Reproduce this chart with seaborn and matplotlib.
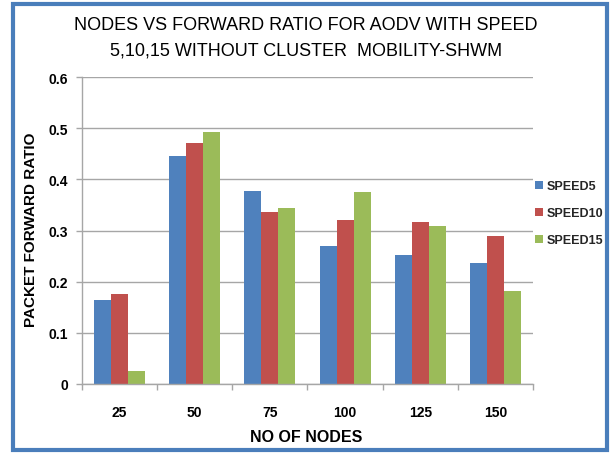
import matplotlib
matplotlib.use("Agg")
import matplotlib.pyplot as plt
from matplotlib.patches import Rectangle
from matplotlib.ticker import FuncFormatter, FixedLocator
import numpy as np
import pandas as pd
import seaborn as sns

# Data
nodes = ["25", "50", "75", "100", "125", "150"]
series = ["SPEED5", "SPEED10", "SPEED15"]
speed5 = [0.165, 0.445, 0.377, 0.270, 0.253, 0.237]
speed10 = [0.175, 0.471, 0.337, 0.320, 0.317, 0.289]
speed15 = [0.026, 0.493, 0.344, 0.375, 0.309, 0.181]
colors = ["#4F81BD", "#C0504D", "#9BBB59"]

df = pd.DataFrame({
    "nodes": nodes * 3,
    "speed": [s for s in series for _ in nodes],
    "ratio": speed5 + speed10 + speed15,
})

sns.set_theme(style="white")
plt.rcParams["font.family"] = ["Liberation Sans", "DejaVu Sans"]

W, H = 610, 456
fig = plt.figure(figsize=(W / 100, H / 100), dpi=100)
x0, x1, y_bot, y_top = 82, 533, 385, 78
ax = fig.add_axes([x0 / W, (H - y_bot) / H, (x1 - x0) / W, (y_bot - y_top) / H])

sns.barplot(data=df, x="nodes", y="ratio", hue="speed", order=nodes,
            hue_order=series, palette=colors, width=0.68, gap=0,
            saturation=1, edgecolor="none", linewidth=0, ax=ax)

ax.set_xlim(-0.5, len(nodes) - 0.5)
ax.set_ylim(0, 0.6)
ax.set_yticks(np.arange(0, 0.61, 0.1))
ax.yaxis.set_major_formatter(FuncFormatter(lambda v, _: "0" if abs(v) < 1e-9 else f"{v:.1f}"))
ax.yaxis.grid(True, color="#A6A6A6", linewidth=1)
ax.set_axisbelow(True)

for s in ["top", "right"]:
    ax.spines[s].set_visible(False)
for s in ["left", "bottom"]:
    ax.spines[s].set_color("#A6A6A6")
    ax.spines[s].set_linewidth(1)

# category labels centred, boundary tick marks below the axis
ax.tick_params(axis="x", which="major", length=0, pad=15)
ax.xaxis.set_minor_locator(FixedLocator(np.arange(-0.5, len(nodes), 1.0)))
ax.tick_params(axis="x", which="minor", bottom=True, length=4, color="#A6A6A6", width=1)
ax.tick_params(axis="y", which="major", left=True, length=4, color="#A6A6A6", width=1, pad=6)

for lab in ax.get_xticklabels() + ax.get_yticklabels():
    lab.set_fontweight("bold")
    lab.set_fontsize(10)
    lab.set_color("black")

ax.set_xlabel("NO OF NODES", fontsize=11.5, fontweight="bold", color="black", va="center")
ax.xaxis.set_label_coords((306 - x0) / (x1 - x0), -(438 - y_bot) / (y_bot - y_top))
ax.set_ylabel("PACKET FORWARD RATIO", fontsize=11, fontweight="bold", color="black", va="center")
ax.yaxis.set_label_coords(-(x0 - 31) / (x1 - x0), (y_bot - 230) / (y_bot - y_top))

fig.text(306 / W, 1 - 25 / H, "NODES VS FORWARD RATIO FOR AODV WITH SPEED",
         ha="center", va="center", fontsize=13, color="black")
fig.text(306 / W, 1 - 51 / H, "5,10,15 WITHOUT CLUSTER  MOBILITY-SHWM",
         ha="center", va="center", fontsize=13, color="black")

ax.legend(loc="upper left", bbox_to_anchor=(535 / W, 1 - 181 / H),
          bbox_transform=fig.transFigure, frameon=False,
          handlelength=0.6, handleheight=0.6, handletextpad=0.3,
          labelspacing=1.2, borderaxespad=0, borderpad=0,
          prop={"weight": "bold", "size": 9})

fig.patches.append(Rectangle((13 / W, 5 / H), (607 - 13) / W, (451 - 5) / H,
                             transform=fig.transFigure, fill=False,
                             edgecolor="#4A7EBB", linewidth=3))

fig.savefig("out.png", dpi=100)
